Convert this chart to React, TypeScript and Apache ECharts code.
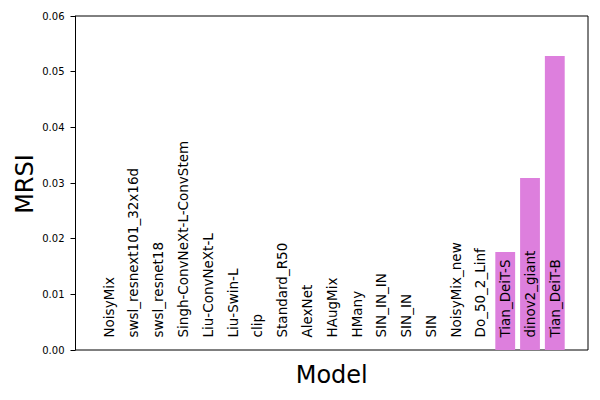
import React, { useEffect, useRef } from "react";
import * as echarts from "echarts";

const categories = [
  "NoisyMix",
  "swsl_resnext101_32x16d",
  "swsl_resnet18",
  "Singh-ConvNeXt-L-ConvStem",
  "Liu-ConvNeXt-L",
  "Liu-Swin-L",
  "clip",
  "Standard_R50",
  "AlexNet",
  "HAugMix",
  "HMany",
  "SIN_IN_IN",
  "SIN_IN",
  "SIN",
  "NoisyMix_new",
  "Do_50_2_Linf",
  "Tian_DeiT-S",
  "dinov2_giant",
  "Tian_DeiT-B",
];
const mrsi = [0, 0, 0, 0, 0, 0, 0, 0, 0, 0, 0, 0, 0, 0, 0, 0, 0.0176, 0.0309, 0.0528];
const yTicks = [0, 0.01, 0.02, 0.03, 0.04, 0.05, 0.06];

const FONT = "DejaVu Sans";

export default function App() {
  const ref = useRef<HTMLDivElement>(null);
  useEffect(() => {
    if (!ref.current) return;
    const chart = echarts.init(ref.current, null, { renderer: "svg" });
    const n = categories.length;
    // matplotlib-like x limits: bars span [-0.4, n-0.6], 5% margins
    const span = n - 1 + 0.8;
    const lo = -0.4 - 0.05 * span;
    const hi = n - 1 + 0.4 + 0.05 * span;
    const frameL = 75.5;
    const frameR = 588;
    const pxPerUnit = (frameR - frameL) / (hi - lo);
    const innerL = frameL + (-0.5 - lo) * pxPerUnit;
    const innerR = innerL + n * pxPerUnit;

    chart.setOption({
      animation: false,
      textStyle: { fontFamily: FONT },
      grid: [
        {
          left: frameL,
          right: 600 - frameR,
          top: 16,
          bottom: 50,
          show: true,
          borderColor: "#000",
          borderWidth: 1,
          backgroundColor: "transparent",
        },
        {
          left: innerL,
          right: 600 - innerR,
          top: 16,
          bottom: 50,
        },
      ],
      xAxis: [
        {
          gridIndex: 0,
          type: "value",
          min: 0,
          max: 1,
          show: false,
        },
        {
          gridIndex: 1,
          type: "category",
          data: categories,
          z: 10,
          axisLine: { show: false },
          axisTick: { show: false },
          axisLabel: {
            inside: true,
            rotate: 90,
            margin: 12.5,
            interval: 0,
            hideOverlap: false,
            fontSize: 13.5,
            color: "#000",
            fontFamily: FONT,
          },
        },
      ],
      yAxis: [
        {
          gridIndex: 0,
          type: "value",
          min: 0,
          max: 0.06,
          interval: 0.01,
          axisLine: { show: true, lineStyle: { color: "#000", width: 1 } },
          axisTick: { show: true, length: 5, lineStyle: { color: "#000" } },
          splitLine: { show: false },
          axisLabel: {
            margin: 11,
            fontSize: 10,
            color: "#000",
            fontFamily: FONT,
            formatter: (v: number) => v.toFixed(2),
            customValues: yTicks,
          },
        },
        {
          gridIndex: 1,
          type: "value",
          min: 0,
          max: 0.06,
          show: false,
        },
      ],
      series: [
        {
          type: "bar",
          xAxisIndex: 1,
          yAxisIndex: 1,
          data: mrsi,
          barWidth: "80%",
          itemStyle: { color: "#DD7FDD" },
          z: 1,
        },
      ],
      graphic: [
        {
          type: "text",
          x: (frameL + frameR) / 2,
          y: 375,
          style: {
            text: "Model",
            fontSize: 24,
            fontFamily: FONT,
            fill: "#000",
            align: "center",
            verticalAlign: "middle",
          },
        },
        {
          type: "text",
          x: 25,
          y: 184,
          rotation: Math.PI / 2,
          style: {
            text: "MRSI",
            fontSize: 24,
            fontFamily: FONT,
            fill: "#000",
            align: "center",
            verticalAlign: "middle",
          },
        },
      ],
    });
    return () => chart.dispose();
  }, []);
  return <div ref={ref} style={{ width: 600, height: 400, position: "absolute", left: 0, top: 0 }} />;
}
